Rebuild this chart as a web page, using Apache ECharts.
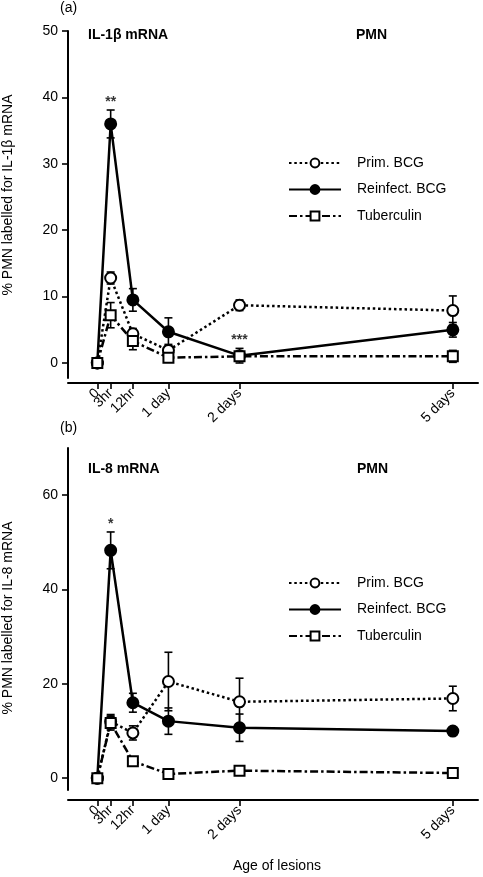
<!DOCTYPE html>
<html>
<head>
<meta charset="utf-8">
<script src="https://cdn.jsdelivr.net/npm/echarts@6/dist/echarts.min.js"></script>
<style>
html,body{margin:0;padding:0;background:#fff;}
#c{width:483px;height:877px;}
</style>
</head>
<body>
<div id="c"></div>
<script>
// ---- data ----
const hours = [0, 4.5, 12, 24, 48, 120];            // x positions of the time points
const tickLabels = ['0', '3hr', '12hr', '1 day', '2 days', '5 days'];
const seriesNames = ['Prim. BCG', 'Reinfect. BCG', 'Tuberculin'];

// Panel (a) IL-1β mRNA
const primA = [0, 12.8, 4.4, 1.9, 8.7, 7.9];
const primAErr = [0, 0.9, 0.8, 0.9, 0.8, 2.2];
const reinfA = [0, 36.0, 9.5, 4.7, 1.1, 5.0];
const reinfAErr = [0, 2.1, 1.7, 2.1, 1.1, 1.1];
const tubA = [0, 7.2, 3.3, 0.8, 1.0, 1.0];
const tubAErr = [0, 1.9, 1.3, 0, 0, 0.9];
const yTicksA = [0, 10, 20, 30, 40, 50];
const signifA = [{ idx: 1, text: '**' }, { idx: 4, text: '***' }];

// Panel (b) IL-8 mRNA
const primB = [0, 12.0, 9.6, 20.5, 16.2, 16.9];
const primBErr = [0, 1.5, 1.5, 6.2, 5.0, 2.6];
const reinfB = [0, 48.3, 16.0, 12.1, 10.7, 10.0];
const reinfBErr = [0, 3.9, 2.0, 2.8, 2.9, 0];
const tubB = [0, 11.7, 3.6, 0.9, 1.6, 1.1];
const tubBErr = [0, 1.5, 0, 0, 0, 0];
const yTicksB = [0, 20, 40, 60];
const signifB = [{ idx: 1, text: '*' }];

// ---- chart ----
const FONT = '"Liberation Sans", Arial, Helvetica, sans-serif';
const styles = [
  { symbol: 'circle', fill: '#fff', lineType: [2.5, 2.8] },
  { symbol: 'circle', fill: '#000', lineType: 'solid' },
  { symbol: 'rect', fill: '#fff', lineType: [8, 3, 2.5, 3] }
];

function lineSeries(panel, k, vals) {
  const s = styles[k];
  return {
    type: 'line', name: seriesNames[k], xAxisIndex: panel, yAxisIndex: panel,
    data: hours.map((h, i) => [h, vals[i]]),
    symbol: s.symbol, symbolSize: s.symbol === 'rect' ? 10 : 11, showSymbol: true,
    lineStyle: { color: '#000', width: 2.5, type: s.lineType },
    itemStyle: { color: s.fill, borderColor: '#000', borderWidth: 2 },
    z: 4 + k, animation: false, clip: false, silent: true
  };
}

function errSeries(panel, vals, errs) {
  return {
    type: 'custom', xAxisIndex: panel, yAxisIndex: panel, z: 2, silent: true,
    data: hours.map((h, i) => [h, vals[i], errs[i]]),
    renderItem: function (params, api) {
      const x = api.value(0), y = api.value(1), e = api.value(2);
      if (!e) return null;
      const t = api.coord([x, y + e]);
      const b = api.coord([x, y - e]);
      const w = 4;
      const st = { stroke: '#000', lineWidth: 1.6 };
      return {
        type: 'group', children: [
          { type: 'line', shape: { x1: t[0], y1: t[1], x2: b[0], y2: b[1] }, style: st },
          { type: 'line', shape: { x1: t[0] - w, y1: t[1], x2: t[0] + w, y2: t[1] }, style: st },
          { type: 'line', shape: { x1: b[0] - w, y1: b[1], x2: b[0] + w, y2: b[1] }, style: st }
        ]
      };
    },
    animation: false
  };
}

function signifSeries(panel, list, vals, errs) {
  return {
    type: 'scatter', xAxisIndex: panel, yAxisIndex: panel, symbolSize: 0, silent: true,
    data: list.map(a => ({ value: [hours[a.idx], vals[a.idx] + errs[a.idx]], name: a.text })),
    label: { show: true, position: 'top', distance: 1, formatter: p => p.name,
      color: '#000', fontSize: 14, fontWeight: 'bold', fontFamily: FONT },
    animation: false, z: 8
  };
}

// main x axis: line, all ticks, labels except the crowded 3hr one
// helper x axis (same scale): only the 3hr label, so it is not dropped as overlapping
function xAxis(grid, offset, labelVals, showLine) {
  return {
    type: 'value', gridIndex: grid, min: -9.9, max: 128.5, offset: offset, position: 'bottom',
    axisLine: { show: showLine, onZero: false, lineStyle: { color: '#000', width: 2 } },
    axisTick: { show: showLine, length: 6, lineStyle: { color: '#000', width: 1.6 }, customValues: hours },
    axisLabel: { show: true, rotate: 45, margin: 8, fontSize: 14, color: '#000', fontFamily: FONT,
      hideOverlap: false, showMinLabel: true, showMaxLabel: true,
      customValues: labelVals, formatter: v => tickLabels[hours.indexOf(v)] },
    splitLine: { show: false }
  };
}
function yAxis(grid, min, max, ticks) {
  return {
    type: 'value', gridIndex: grid, min: min, max: max,
    axisLine: { show: true, onZero: false, lineStyle: { color: '#000', width: 2 } },
    axisTick: { show: true, length: 6, lineStyle: { color: '#000', width: 1.6 }, customValues: ticks },
    axisLabel: { show: true, margin: 10, fontSize: 14, color: '#000', fontFamily: FONT, customValues: ticks },
    splitLine: { show: false }
  };
}

function legend(top) {
  return {
    data: seriesNames, orient: 'vertical', left: 288, top: top, padding: 0,
    itemWidth: 52, itemHeight: 11, itemGap: 12.5, selectedMode: false,
    formatter: n => '{s|}' + n,
    textStyle: { fontSize: 14, color: '#000', fontFamily: FONT, rich: { s: { width: 11 } } }
  };
}

const t = (text, left, top, bold) => ({
  text: text, left: left, top: top, padding: 0,
  textStyle: { fontSize: 14, fontWeight: bold ? 'bold' : 'normal', color: '#000', fontFamily: FONT }
});

const mainLabels = hours.filter((h, i) => i !== 1);
const crowdedLabels = [hours[1]];

const option = {
  backgroundColor: '#fff',
  animation: false,
  title: [
    t('(a)', 60, 1, false),
    t('IL-1β mRNA', 88, 28, true),
    t('PMN', 356, 28, true),
    t('(b)', 60, 421, false),
    t('IL-8 mRNA', 88, 462, true),
    t('PMN', 357, 462, true),
    t('Age of lesions', 233, 859, false)
  ],
  graphic: [
    { type: 'text', x: 8, y: 195, rotation: Math.PI / 2,
      style: { text: '% PMN labelled for IL-1β mRNA', fill: '#000', font: '14px ' + FONT, textAlign: 'center', textVerticalAlign: 'middle' } },
    { type: 'text', x: 8, y: 618, rotation: Math.PI / 2,
      style: { text: '% PMN labelled for IL-8 mRNA', fill: '#000', font: '14px ' + FONT, textAlign: 'center', textVerticalAlign: 'middle' } }
  ],
  legend: [legend(156), legend(576)],
  grid: [
    { left: 68, width: 410, top: 31, height: 347 },
    { left: 68, width: 410, top: 448, height: 342 }
  ],
  xAxis: [xAxis(0, 5, mainLabels, true), xAxis(1, 10, mainLabels, true),
          xAxis(0, 5, crowdedLabels, false), xAxis(1, 10, crowdedLabels, false)],
  yAxis: [yAxis(0, -2.26, 50, yTicksA), yAxis(1, -2.5, 70, yTicksB)],
  series: [
    errSeries(0, primA, primAErr), errSeries(0, reinfA, reinfAErr), errSeries(0, tubA, tubAErr),
    lineSeries(0, 0, primA), lineSeries(0, 1, reinfA), lineSeries(0, 2, tubA),
    signifSeries(0, signifA.filter(a => a.idx === 1), reinfA, reinfAErr),
    signifSeries(0, signifA.filter(a => a.idx === 4), reinfA, reinfAErr),
    errSeries(1, primB, primBErr), errSeries(1, reinfB, reinfBErr), errSeries(1, tubB, tubBErr),
    lineSeries(1, 0, primB), lineSeries(1, 1, reinfB), lineSeries(1, 2, tubB),
    signifSeries(1, signifB, reinfB, reinfBErr)
  ]
};

const chart = echarts.init(document.getElementById('c'), null, { renderer: 'canvas' });
chart.setOption(option);
</script>
</body>
</html>
